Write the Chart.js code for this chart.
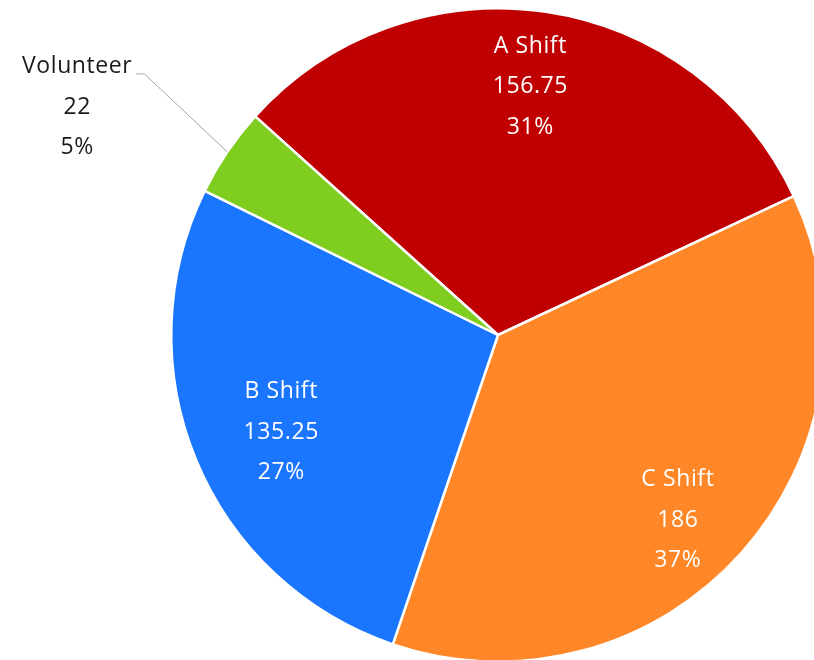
<!DOCTYPE html>
<html>
<head>
<meta charset="utf-8">
<script src="https://cdn.jsdelivr.net/npm/chart.js@4/dist/chart.umd.min.js"></script>
<style>
  html, body { margin: 0; padding: 0; background: #ffffff; overflow: hidden; width: 814px; height: 660px; }
  #wrap { position: absolute; left: 0; top: 0; width: 830px; height: 672px; }
</style>
</head>
<body>
<div id="wrap"><canvas id="pie"></canvas></div>
<script>
// Hours by shift
const categories = ['A Shift', 'C Shift', 'B Shift', 'Volunteer'];
const hours = [156.75, 186, 135.25, 22];
const sliceColors = ['#C00000', '#FF8727', '#1A76FF', '#7ECD1F'];

// Whole-number percentages that add up to 100 (largest remainder)
function roundedPercents(values) {
  const total = values.reduce((a, b) => a + b, 0);
  const raw = values.map(v => v / total * 100);
  const floors = raw.map(Math.floor);
  let left = 100 - floors.reduce((a, b) => a + b, 0);
  const order = raw.map((r, i) => [r - Math.floor(r), i]).sort((a, b) => b[0] - a[0]);
  for (let k = 0; k < left; k++) floors[order[k][1]] += 1;
  return floors;
}
const percents = roundedPercents(hours);

const FONT = '23px "Open Sans", Lato, sans-serif';
const LINE = 40.5;

// Label placement per slice: inside labels use [angle shift in degrees, radius fraction];
// the small slice gets an outside label with a leader line.
const inside = { 0: [-1, 0.767], 1: [4, 0.79], 2: [-1.6, 0.727] };

const sliceLabels = {
  id: 'sliceLabels',
  afterDatasetsDraw(chart) {
    const ctx = chart.ctx;
    const meta = chart.getDatasetMeta(0);
    ctx.save();
    ctx.font = FONT;
    if ('letterSpacing' in ctx) ctx.letterSpacing = '0.6px';
    ctx.textAlign = 'center';
    ctx.textBaseline = 'middle';
    meta.data.forEach((arc, i) => {
      const p = arc.getProps(['x', 'y', 'startAngle', 'endAngle', 'outerRadius'], true);
      const mid = (p.startAngle + p.endAngle) / 2;
      const lines = [categories[i], String(hours[i]), percents[i] + '%'];
      if (inside[i]) {
        const a = mid + inside[i][0] * Math.PI / 180;
        const r = p.outerRadius * inside[i][1];
        const cx = p.x + Math.cos(a) * r;
        const cy = p.y + Math.sin(a) * r;
        ctx.fillStyle = '#ffffff';
        lines.forEach((t, k) => ctx.fillText(t, cx, cy + (k - 1) * LINE));
      } else {
        // leader line from the slice edge to an elbow, then a short horizontal run
        const ex = p.x + Math.cos(mid) * p.outerRadius;
        const ey = p.y + Math.sin(mid) * p.outerRadius;
        const bx = ex - 83, by = ey - 78;
        const tx = bx - 8;
        ctx.strokeStyle = '#a6a6a6';
        ctx.lineWidth = 1;
        ctx.beginPath();
        ctx.moveTo(ex, ey);
        ctx.lineTo(bx, by);
        ctx.lineTo(tx, by);
        ctx.stroke();
        const w = ctx.measureText(lines[0]).width;
        const cx = tx - 4 - w / 2;
        const cy = by + LINE - 7;
        ctx.fillStyle = '#1a1a1a';
        lines.forEach((t, k) => ctx.fillText(t, cx, cy + (k - 1) * LINE));
      }
    });
    ctx.restore();
  }
};

new Chart(document.getElementById('pie'), {
  type: 'pie',
  data: {
    labels: categories,
    datasets: [{
      data: hours,
      backgroundColor: sliceColors,
      borderColor: '#ffffff',
      borderWidth: 2.5,
      hoverOffset: 0
    }]
  },
  options: {
    responsive: true,
    maintainAspectRatio: false,
    animation: false,
    rotation: -48,
    layout: { padding: { left: 170, right: 4, top: 7, bottom: 9 } },
    plugins: {
      legend: { display: false },
      tooltip: { enabled: false }
    }
  },
  plugins: [sliceLabels]
});
</script>
</body>
</html>
